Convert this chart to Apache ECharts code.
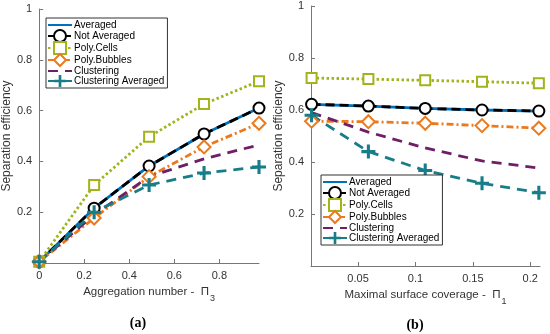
<!DOCTYPE html>
<html>
<head>
<meta charset="utf-8">
<script src="https://cdn.jsdelivr.net/npm/echarts@6/dist/echarts.min.js"></script>
<style>html,body{margin:0;padding:0;background:#fff}#c{width:550px;height:334px}</style>
</head>
<body>
<div id="c"></div>
<script>
// ---- Data ----
const seriesNames = ['Averaged', 'Not Averaged', 'Poly.Cells', 'Poly.Bubbles', 'Clustering', 'Clustering Averaged'];

// (a) Aggregation number Π3
const xA = [0, 0.244, 0.488, 0.732, 0.976];
const aAveraged = [0.005, 0.216, 0.382, 0.508, 0.61];
const aNotAveraged = [0.005, 0.216, 0.382, 0.508, 0.61];
const aPolyCells = [0.005, 0.307, 0.497, 0.626, 0.716];
const aPolyBubbles = [0.005, 0.177, 0.34, 0.457, 0.55];
const aClustering = [0.005, 0.19, 0.34, 0.41, 0.465];
const aClusteringAveraged = [0.005, 0.2, 0.307, 0.354, 0.378];

// (b) Maximal surface coverage Π1
const xB = [0.0095, 0.059, 0.1085, 0.158, 0.2075];
const bAveraged = [0.622, 0.615, 0.606, 0.6, 0.596];
const bNotAveraged = [0.622, 0.615, 0.606, 0.6, 0.596];
const bPolyCells = [0.723, 0.719, 0.714, 0.709, 0.703];
const bPolyBubbles = [0.557, 0.555, 0.549, 0.54, 0.53];
const bClustering = [0.59, 0.515, 0.454, 0.404, 0.377];
const bClusteringAveraged = [0.58, 0.44, 0.367, 0.318, 0.282];

// tick labels
const yTicks = [0.2, 0.4, 0.6, 0.8, 1];
const xTicksA = [0, 0.2, 0.4, 0.6, 0.8];
const xTicksB = [0.05, 0.1, 0.15, 0.2];

// ---- Styles ----
const FONT = 'Liberation Sans';
const styles = {
  'Averaged': {color: '#0072BD', type: 'solid', symbol: 'none', size: 0, bw: 0},
  'Not Averaged': {color: '#000000', type: [9, 5], symbol: 'emptyCircle', size: 11, bw: 2.5},
  'Poly.Cells': {color: '#A3B31A', type: [2.5, 2.5], symbol: 'emptyRect', size: 10, bw: 2.5},
  'Poly.Bubbles': {color: '#EC7A1C', type: [7, 3, 2, 3], symbol: 'emptyDiamond', size: 13, bw: 2.5},
  'Clustering': {color: '#701E66', type: [10, 7], symbol: 'none', size: 0, bw: 0},
  'Clustering Averaged': {color: '#177D89', type: [10, 7], symbol: 'path://M3.9,0H6.1V3.9H10V6.1H6.1V10H3.9V6.1H0V3.9H3.9Z', size: 14, bw: 0}
};

function pairs(xs, ys) { return xs.map((x, i) => [x, ys[i]]); }

function mk(name, xs, ys, idx) {
  const s = styles[name];
  return {
    name: name,
    type: 'line',
    xAxisIndex: idx,
    yAxisIndex: idx,
    data: pairs(xs, ys),
    symbol: s.symbol,
    symbolSize: s.size,
    showSymbol: s.symbol !== 'none',
    animation: false,
    lineStyle: {color: s.color, width: 2.8, type: s.type},
    itemStyle: {color: s.color, borderColor: s.color, borderWidth: s.bw},
    emphasis: {disabled: true}
  };
}

const seriesA = [aAveraged, aNotAveraged, aPolyCells, aPolyBubbles, aClustering, aClusteringAveraged];
const seriesB = [bAveraged, bNotAveraged, bPolyCells, bPolyBubbles, bClustering, bClusteringAveraged];

const series = [];
seriesNames.forEach((n, i) => series.push(mk(n, xA, seriesA[i], 0)));
seriesNames.forEach((n, i) => series.push(mk(n, xB, seriesB[i], 1)));

const axisLine = {lineStyle: {color: '#777', width: 1}};
const axisLabel = {color: '#333', fontFamily: FONT, fontSize: 11};

function xAxis(idx, min, max, ticks, nameParts) {
  return {
    type: 'value', gridIndex: idx, min: min, max: max,
    axisLine: axisLine,
    axisTick: {inside: true, length: 4, lineStyle: {color: '#777'}, customValues: ticks},
    axisLabel: Object.assign({customValues: ticks, margin: 7, formatter: v => String(+v.toFixed(3))}, axisLabel),
    splitLine: {show: false},
    name: '{t|' + nameParts[0] + '}{s|' + nameParts[1] + '}',
    nameLocation: 'middle', nameGap: 18,
    nameTextStyle: {
      rich: {
        t: {fontFamily: FONT, fontSize: 11.5, color: '#333', verticalAlign: 'bottom', lineHeight: 14},
        s: {fontFamily: FONT, fontSize: 9, color: '#333', verticalAlign: 'bottom', lineHeight: 8, padding: [0, 0, -5, 1]}
      }
    }
  };
}
function yAxis(idx) {
  return {
    type: 'value', gridIndex: idx, min: 0, max: 1,
    axisLine: Object.assign({show: true}, axisLine),
    axisTick: {show: true, inside: true, length: 4, lineStyle: {color: '#777'}, customValues: yTicks},
    axisLabel: Object.assign({customValues: yTicks, margin: 7, formatter: v => String(+v.toFixed(2))}, axisLabel),
    splitLine: {show: false},
    name: 'Separation efficiency',
    nameLocation: 'middle', nameGap: 15,
    nameTextStyle: {fontFamily: FONT, fontSize: 12, color: '#333'}
  };
}

function legendData() {
  return seriesNames.map(n => styles[n].symbol === 'none'
    ? {name: n, itemStyle: {color: 'rgba(0,0,0,0)', borderColor: 'rgba(0,0,0,0)', borderWidth: 0}}
    : {name: n});
}

function legend(left, top) {
  return {
    left: left, top: top, orient: 'vertical',
    data: legendData(),
    itemWidth: 24, itemHeight: 15, itemGap: -2,
    padding: [1, 3, 1, 1],
    backgroundColor: '#fff',
    borderColor: '#333', borderWidth: 1,
    textStyle: {fontFamily: FONT, fontSize: 10, color: '#000', padding: [0, 0, 0, -3]},
    selectedMode: false
  };
}

const chart = echarts.init(document.getElementById('c'), null, {renderer: 'canvas'});
chart.setOption({
  animation: false,
  backgroundColor: '#fff',
  title: [
    {text: '(a)', left: 133, top: 311, textAlign: 'center', textStyle: {fontFamily: 'Liberation Serif', fontWeight: 'bold', fontSize: 14, color: '#000'}},
    {text: '(b)', left: 410, top: 313, textAlign: 'center', textStyle: {fontFamily: 'Liberation Serif', fontWeight: 'bold', fontSize: 14, color: '#000'}}
  ],
  grid: [
    {left: 35, top: 9, width: 224, height: 254, containLabel: false},
    {left: 311, top: 6, width: 229, height: 260, containLabel: false}
  ],
  xAxis: [
    xAxis(0, 0, 0.976, xTicksA, ['Aggregation number -  Π', '3']),
    xAxis(1, 0.009, 0.2085, xTicksB, ['Maximal surface coverage -  Π', '1'])
  ],
  yAxis: [yAxis(0), yAxis(1)],
  legend: [legend(46, 18), legend(321, 175)],
  series: series
});
</script>
</body>
</html>
